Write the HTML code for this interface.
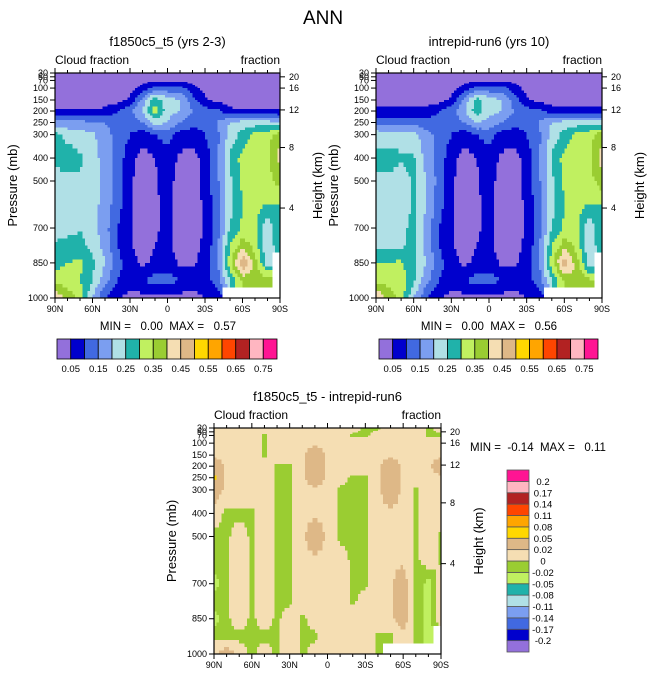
<!DOCTYPE html>
<html><head><meta charset="utf-8">
<style>
body{margin:0;background:#fff;}
svg{display:block;font-family:"Liberation Sans",Arial,sans-serif;}
text{white-space:pre;}
</style></head>
<body>
<svg id="fig" width="647" height="678" viewBox="0 0 647 678">
<text x="323" y="24" font-size="19" text-anchor="middle">ANN</text>
</svg>
<script>
// ---------- data ----------
const lats = ["90N","80N","70N","60N","50N","40N","30N","20N","10N","0","10S","20S","30S","40S","50S","60S","70S","80S","90S"];
const pLevels = [30,70,100,150,200,250,300,400,500,600,700,775,850,925,1000];
const topLevels = [0.05,0.1,0.15,0.2,0.25,0.3,0.35,0.4,0.45,0.5,0.55,0.6,0.65,0.7,0.75];
const topLabels = ["0.05","0.15","0.25","0.35","0.45","0.55","0.65","0.75"];
const diffLevels = [-0.2,-0.17,-0.14,-0.11,-0.08,-0.05,-0.02,0,0.02,0.05,0.08,0.11,0.14,0.17,0.2];
const diffLabels = ["-0.2","-0.17","-0.14","-0.11","-0.08","-0.05","-0.02","0","0.02","0.05","0.08","0.11","0.14","0.17","0.2"];
const palette = ["#9370DB","#0000CD","#4169E1","#7B9EF0","#B0E0E6","#20B2AA","#C0F060","#9ACD32","#F5DEB3","#DEB887","#FFD700","#FFA500","#FF4500","#B22222","#FFB6C1","#FF1493"];
const pTicks = [30,50,70,100,150,200,250,300,400,500,700,850,1000];
const hTicks = [20,16,12,8,4];
const hTickP = [50,100,195,355,615];
const M = null;

const cloudA = [
[.02,.02,.02,.02,.02,.02,.02,.02,.02,.02,.02,.02,.02,.02,.02,.02,.02,.02,.02],
[.02,.02,.02,.02,.02,.02,.02,.03,.04,.04,.04,.03,.02,.02,.02,.02,.02,.02,.02],
[.02,.02,.02,.02,.02,.02,.03,.07,.12,.12,.12,.07,.03,.02,.02,.02,.02,.02,.02],
[.03,.03,.03,.03,.03,.03,.06,.17,.28,.22,.20,.12,.06,.03,.03,.03,.03,.03,.03],
[.055,.055,.055,.055,.06,.10,.14,.20,.33,.22,.20,.15,.12,.12,.06,.055,.055,.055,.055],
[.17,.17,.17,.15,.15,.13,.12,.15,.22,.20,.15,.12,.12,.15,.20,.22,.22,.22,.20],
[.27,.23,.22,.21,.17,.13,.10,.07,.10,.12,.08,.07,.10,.14,.22,.27,.32,.33,.38],
[.27,.28,.26,.22,.18,.13,.07,.03,.05,.08,.04,.03,.07,.14,.26,.32,.32,.34,.42],
[.22,.23,.24,.22,.18,.13,.06,.02,.04,.08,.02,.02,.07,.14,.24,.31,.32,.33,.37],
[.22,.22,.22,.22,.18,.12,.06,.02,.04,.07,.02,.02,.06,.13,.23,.30,.32,.30,.30],
[.22,.23,.25,.22,.17,.10,.06,.02,.04,.07,.02,.02,.06,.13,.25,.31,.32,.20,.30],
[.26,.27,.26,.24,.18,.10,.06,.02,.05,.07,.02,.03,.06,.14,.30,.38,.33,.20,.30],
[.28,.30,.31,.26,.20,.12,.07,.04,.06,.08,.04,.04,.07,.14,.33,.50,.37,.22,M],
[.33,.32,.30,.25,.17,.10,.08,.10,.12,.12,.10,.08,.08,.12,.25,.36,.40,.38,M],
[.45,.38,.34,.20,.10,.06,.03,.03,.03,.03,.03,.03,.05,.08,M,M,M,M,M]];

const cloudB = [
[.02,.02,.02,.02,.02,.02,.02,.02,.02,.02,.02,.02,.02,.02,.02,.02,.02,.02,.02],
[.02,.02,.02,.02,.02,.02,.02,.03,.04,.04,.04,.03,.02,.02,.02,.02,.02,.02,.02],
[.02,.02,.02,.02,.02,.02,.03,.07,.12,.12,.12,.08,.03,.02,.02,.02,.02,.02,.02],
[.03,.03,.03,.03,.03,.03,.06,.16,.27,.22,.20,.13,.06,.03,.03,.03,.03,.03,.03],
[.06,.06,.06,.06,.06,.10,.13,.19,.28,.22,.20,.15,.12,.12,.07,.06,.06,.06,.06],
[.14,.13,.13,.13,.12,.12,.12,.15,.20,.18,.15,.12,.12,.15,.20,.22,.22,.22,.22],
[.23,.22,.22,.22,.17,.13,.10,.07,.10,.12,.08,.07,.10,.14,.22,.27,.32,.33,.38],
[.27,.27,.26,.26,.18,.13,.07,.03,.05,.08,.04,.03,.07,.14,.26,.32,.32,.34,.42],
[.23,.24,.22,.26,.20,.13,.06,.02,.04,.08,.02,.02,.07,.14,.24,.31,.32,.33,.38],
[.23,.23,.22,.26,.20,.12,.06,.02,.04,.07,.02,.02,.06,.13,.23,.30,.32,.30,.30],
[.22,.22,.24,.26,.18,.10,.06,.02,.04,.07,.02,.02,.06,.13,.25,.31,.32,.20,.30],
[.24,.23,.24,.26,.18,.10,.06,.02,.05,.07,.02,.03,.06,.14,.30,.38,.33,.20,.30],
[.30,.30,.31,.27,.20,.12,.07,.04,.06,.08,.04,.04,.07,.14,.33,.49,.37,.22,M],
[.34,.33,.32,.26,.17,.10,.08,.10,.12,.12,.10,.08,.08,.12,.25,.36,.40,.36,M],
[.45,.38,.34,.20,.10,.06,.03,.03,.03,.03,.03,.03,.05,.08,M,M,M,M,M]];

const diffField = [
[.015,.015,.015,.015,.015,.015,.015,.015,.015,.015,.015,.015,-.006,-.006,.015,.015,.015,-.006,.015],
[.015,.015,.015,.015,-.006,.015,.015,.015,.015,.015,.015,-.006,-.006,.015,.015,.015,.015,-.006,-.006],
[.015,.015,.015,.015,-.006,.015,.015,.015,.015,.015,.015,.015,.015,.015,.015,.015,.015,.015,.015],
[.015,.015,.015,.015,-.006,.015,.015,.015,.035,.015,.015,.015,.015,.015,.015,.015,.015,.015,.015],
[.035,.015,.015,.015,.015,-.006,-.006,.015,.035,.015,.015,.015,.015,.015,.035,.015,.015,.015,.035],
[.06,.015,.015,.015,.015,-.006,-.006,.015,.035,.015,.015,-.006,-.006,.015,.035,.015,.015,.015,.015],
[.035,.015,.015,.015,.015,-.006,-.006,.015,.015,.015,-.006,-.006,-.006,.015,.035,.015,-.006,.015,.015],
[.015,-.006,-.006,-.006,.015,-.006,-.006,.015,.015,.015,-.006,-.006,-.006,.015,.015,.015,-.006,.015,.015],
[-.006,-.006,.015,-.006,.015,-.006,-.006,.015,.035,.015,-.006,-.006,-.006,.015,.015,.015,-.006,.015,-.006],
[-.006,-.006,.015,-.006,.015,-.006,-.006,.015,.015,.015,.015,-.006,-.006,.015,.015,.015,-.006,.015,-.006],
[-.03,-.006,.015,-.006,.015,-.006,-.006,.015,.015,.015,.015,-.006,-.006,.015,.015,.035,-.006,-.03,.015],
[-.006,-.006,.015,-.006,.015,-.006,-.006,.015,.015,.015,.015,-.006,.015,.015,.015,.035,-.006,-.03,.015],
[-.03,-.006,.015,-.006,.015,-.006,.015,-.006,.015,.015,.015,.015,.015,.015,.015,.035,-.006,-.03,.015],
[-.006,-.006,-.006,-.006,-.006,-.006,.015,-.006,-.006,.015,.015,.015,.015,-.006,-.006,.015,-.006,-.03,M],
[.015,.035,.015,-.006,.015,-.006,.015,-.006,.015,.015,.015,.015,.015,-.006,M,M,M,M,M]];

// ---------- helpers ----------
const NS = "http://www.w3.org/2000/svg";
const svg = document.getElementById("fig");
const pF = [[30,0],[50,.017],[70,.033],[100,.067],[150,.12],[200,.169],[250,.22],[300,.274],[400,.378],[500,.48],[700,.689],[850,.844],[1000,1]];
function pFrac(p){for(let i=0;i<pF.length-1;i++){const a=pF[i],b=pF[i+1];if(p<=b[0])return a[1]+(p-a[0])/(b[0]-a[0])*(b[1]-a[1]);}return 1;}
function mk(tag,attrs,parent){const e=document.createElementNS(NS,tag);for(const k in attrs)e.setAttribute(k,attrs[k]);(parent||svg).appendChild(e);return e;}
function txt(x,y,s,size,anchor,parent){const t=mk("text",{x:x,y:y,"font-size":size,"text-anchor":anchor||"middle"},parent);t.textContent=s;return t;}
function colorFor(v,levels){if(v===null)return "#ffffff";let i=0;while(i<levels.length&&v>=levels[i])i++;return palette[i];}

function panel(name,x0,y0,w,h,field,levels,title,minmaxStr,opts){
  const g=mk("g",{});
  
  
  const xs=c=>x0+c/(lats.length-1)*w;
  const ys=p=>y0+pFrac(p)*h;
  const rowY=pLevels.map(ys);
  const nc=lats.length, nr=pLevels.length, sub=5;
  const cg=mk("g",{"shape-rendering":"crispEdges"},g);
  
  
  for(let r=0;r<nr-1;r++){
    for(let sr=0;sr<sub;sr++){
      const fy=(sr+0.5)/sub;
      const yA=rowY[r]+(rowY[r+1]-rowY[r])*sr/sub, yB=rowY[r]+(rowY[r+1]-rowY[r])*(sr+1)/sub;
      let runStart=null, runCol=null;
      const cols=(nc-1)*sub;
      for(let k=0;k<=cols;k++){
        let col=null;
        if(k<cols){
          const c=Math.floor(k/sub), fx=((k%sub)+0.5)/sub;
          const corners=[[field[r][c],(1-fx)*(1-fy)],[field[r][c+1],fx*(1-fy)],[field[r+1][c],(1-fx)*fy],[field[r+1][c+1],fx*fy]];
          const near=corners[(fy<0.5?0:2)+(fx<0.5?0:1)][0];
          let v;
          if(near===null)v=null;else{let s=0,ws=0;corners.forEach(([val,wt])=>{if(val!==null){s+=val*wt;ws+=wt;}});v=s/ws;}
          col=colorFor(v,levels);
        }
        if(col!==runCol){
          if(runCol!==null){
            const rc=mk("rect",{x:(xs(runStart/sub)).toFixed(2),y:yA.toFixed(2),width:(xs(k/sub)-xs(runStart/sub)+0.4).toFixed(2),height:(yB-yA+0.4).toFixed(2),fill:runCol},cg);
            
            
          }
          runStart=k;runCol=col;
        }
      }
    }
  }
  const fr=mk("rect",{x:x0,y:y0,width:w,height:h,fill:"none",stroke:"#000","stroke-width":1.2},g);
  
  
  const t=txt(x0+w/2,y0-27,title,13,"middle",g);
  
  
  const l1=txt(x0,y0-9,"Cloud fraction",12,"start",g);
  
  
  const l2=txt(x0+w,y0-9,"fraction",12,"end",g);
  
  
  for(let c=0;c<nc;c++){
    const x=xs(c), len=(c%3===0)?5:3;
    mk("line",{x1:x,x2:x,y1:y0+h,y2:y0+h+len,stroke:"#000"},g);
    mk("line",{x1:x,x2:x,y1:y0,y2:y0-len,stroke:"#000"},g);
    if(c%3===0){const tl=txt(x,y0+h+14,lats[c],9,"middle",g);
      
      }
  }
  pTicks.forEach(p=>{const y=ys(p);mk("line",{x1:x0-5,x2:x0,y1:y,y2:y,stroke:"#000"},g);
    const tl=txt(x0-7,y+3,String(p),9,"end",g);
    
    });
  hTicks.forEach((hv,i)=>{const y=ys(hTickP[i]);mk("line",{x1:x0+w,x2:x0+w+5,y1:y,y2:y,stroke:"#000"},g);
    const tl=txt(x0+w+9,y+3,String(hv),9,"start",g);
    
    });
  const ya=txt(0,0,"Pressure (mb)",13,"middle",g);
  ya.setAttribute("transform",`translate(${x0-38},${y0+h/2}) rotate(-90)`);
  
  
  const ha=txt(0,0,"Height (km)",13,"middle",g);
  ha.setAttribute("transform",`translate(${x0+w+42},${y0+h/2}) rotate(-90)`);
  
  
  const mm=txt(opts.mmx,opts.mmy,minmaxStr,11.5,opts.mmAnchor||"middle",g);
  
  
}

function hbar(name,x0,y0,w,h,labels){
  const g=mk("g",{});
  
  
  const bw=w/palette.length;
  palette.forEach((c,i)=>{const r=mk("rect",{x:x0+i*bw,y:y0,width:bw,height:h,fill:c,stroke:"#000","stroke-width":0.8},g);
    
    });
  labels.forEach((s,i)=>{const t=txt(x0+(2*i+1)*bw,y0+h+13,s,9.5,"middle",g);
    
    });
}
function vbar(name,x0,y0,w,h,labels){
  const g=mk("g",{});
  
  
  const bh=h/palette.length;
  palette.forEach((c,i)=>{const r=mk("rect",{x:x0,y:y0+h-(i+1)*bh,width:w,height:bh,fill:c,stroke:"#555","stroke-width":0.8},g);
    
    });
  labels.forEach((s,i)=>{const t=txt(x0+w+14,y0+h-(i+1)*bh+3.5,s,9.5,"middle",g);
    
    });
}

panel("panel-f1850c5",55,73,225,225,cloudA,topLevels,"f1850c5_t5 (yrs 2-3)","MIN =   0.00  MAX =   0.57",{mmx:168,mmy:330});
panel("panel-intrepid",376,73,226,225,cloudB,topLevels,"intrepid-run6 (yrs 10)","MIN =   0.00  MAX =   0.56",{mmx:489,mmy:330});
panel("panel-difference",214,428,227,226,diffField,diffLevels,"f1850c5_t5 - intrepid-run6","MIN =  -0.14  MAX =   0.11",{mmx:470,mmy:451,mmAnchor:"start"});
hbar("colorbar-left",57,339,220,20,topLabels);
hbar("colorbar-right",379,339,219,20,topLabels);
vbar("colorbar-diff",507,470,22,182,diffLabels);
</script>
</body></html>
